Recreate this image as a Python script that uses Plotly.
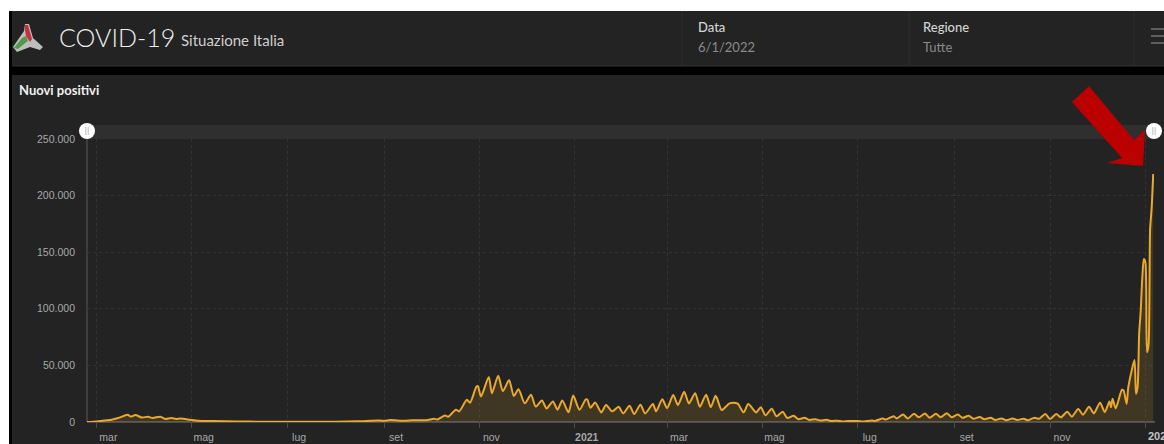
import plotly.graph_objects as go

# ---------- data ----------
dates = [
"2020-02-24","2020-03-01","2020-03-08","2020-03-12","2020-03-15","2020-03-21","2020-03-23","2020-03-26","2020-03-30","2020-04-03",
"2020-04-06","2020-04-11","2020-04-14","2020-04-18","2020-04-21","2020-04-24","2020-04-30","2020-05-05","2020-05-15","2020-05-30",
"2020-06-15","2020-07-01","2020-07-15","2020-08-01","2020-08-15","2020-08-29","2020-09-01","2020-09-05","2020-09-14","2020-09-19",
"2020-09-28","2020-10-03","2020-10-05","2020-10-10","2020-10-12","2020-10-17","2020-10-19","2020-10-24","2020-10-26","2020-10-30",
"2020-10-31","2020-11-02","2020-11-07","2020-11-09","2020-11-13","2020-11-16","2020-11-20","2020-11-23","2020-11-26","2020-11-30",
"2020-12-04","2020-12-07","2020-12-11","2020-12-14","2020-12-18","2020-12-21","2020-12-24","2020-12-28","2020-12-31","2021-01-04",
"2021-01-08","2021-01-09","2021-01-11","2021-01-14","2021-01-18","2021-01-21","2021-01-25","2021-01-29","2021-02-01","2021-02-05",
"2021-02-08","2021-02-12","2021-02-15","2021-02-20","2021-02-22","2021-02-26","2021-03-01","2021-03-05","2021-03-08","2021-03-12",
"2021-03-15","2021-03-19","2021-03-22","2021-03-26","2021-03-29","2021-04-01","2021-04-02","2021-04-05","2021-04-10","2021-04-15",
"2021-04-19","2021-04-22","2021-04-27","2021-04-30","2021-05-03","2021-05-07","2021-05-10","2021-05-14","2021-05-17","2021-05-21",
"2021-05-24","2021-05-28","2021-05-31","2021-06-04","2021-06-07","2021-06-11","2021-06-14","2021-06-18","2021-06-21","2021-06-25",
"2021-07-01","2021-07-05","2021-07-10","2021-07-12","2021-07-17","2021-07-19","2021-07-24","2021-07-26","2021-07-30","2021-08-02",
"2021-08-06","2021-08-09","2021-08-13","2021-08-16","2021-08-20","2021-08-23","2021-08-27","2021-08-30","2021-09-03","2021-09-06",
"2021-09-10","2021-09-13","2021-09-17","2021-09-20","2021-09-24","2021-09-27","2021-10-01","2021-10-04","2021-10-08","2021-10-11",
"2021-10-15","2021-10-18","2021-10-22","2021-10-25","2021-10-29","2021-11-01","2021-11-05","2021-11-08","2021-11-12","2021-11-15",
"2021-11-19","2021-11-22","2021-11-26","2021-11-29","2021-12-03","2021-12-06","2021-12-09","2021-12-10","2021-12-11","2021-12-13",
"2021-12-17","2021-12-18","2021-12-20","2021-12-21","2021-12-23","2021-12-25","2021-12-26","2021-12-27","2021-12-28","2021-12-29",
"2021-12-30","2021-12-31","2022-01-01","2022-01-02","2022-01-03","2022-01-04","2022-01-05","2022-01-06",
]
nuovi_positivi = [
0,500,1500,2500,3500,6500,4800,6200,4000,4600,
3600,4700,2700,3500,2700,3000,2000,1200,800,400,
300,180,200,300,600,1400,1000,1700,1000,1600,
1500,2800,2200,5700,4600,10900,9300,19600,17000,31000,
31700,22500,39800,25300,40900,27300,37000,23000,29000,16500,
24000,13700,19000,12000,18200,10900,19000,8600,23400,10800,
20000,19900,12500,17300,8500,15000,9400,13500,7600,14400,
7000,15300,7600,15900,9400,20000,12300,23800,15000,26700,
16400,25500,13500,24100,13000,23200,21000,10600,16500,16400,
8500,15900,8500,13000,5900,11800,5000,9000,3500,5500,
2500,3800,1800,2500,1270,1900,900,1200,500,900,
800,500,1400,900,3100,2100,5100,3100,6600,3200,
7200,4200,7400,3700,7200,4200,7800,4200,6700,3700,
5600,2800,4500,2500,3800,1800,3200,1600,3000,1800,
2900,1500,3800,2800,7000,2600,7000,4100,9100,4700,
11500,6500,13500,7600,17000,8800,18000,13000,20600,12000,
28500,28000,16000,30000,44000,54800,24900,30800,78000,98000,
126900,144000,141000,61600,68000,170000,189000,219000,
]
y_tickvals = [0, 50000, 100000, 150000, 200000, 250000]
y_ticktext = ["0", "50.000", "100.000", "150.000", "200.000", "250.000"]
x_tickvals = ["2020-03-01","2020-05-01","2020-07-01","2020-09-01","2020-11-01","2021-01-01",
              "2021-03-01","2021-05-01","2021-07-01","2021-09-01","2021-11-01","2022-01-01"]
x_ticktext = ["mar","mag","lug","set","nov","<b>2021</b>","mar","mag","lug","set","nov"," "]
last_year_tick = "2022-01-01"
last_year_label = "<b>2022</b>"

W, H = 1164, 444
FONT = "Lato, 'Open Sans', sans-serif"
AXFONT = "'Liberation Sans', Arial, sans-serif"
PANEL = "#232323"

def fx(p): return p / W
def fy(p): return 1 - p / H

def rect(x0, y0, x1, y1, color):
    return dict(type="rect", xref="paper", yref="paper", x0=fx(x0), x1=fx(x1), y0=fy(y0), y1=fy(y1),
                fillcolor=color, line_width=0, layer="below")

def line(x0, y0, x1, y1, color, width=1, layer="below"):
    return dict(type="line", xref="paper", yref="paper", x0=fx(x0), x1=fx(x1), y0=fy(y0), y1=fy(y1),
                line=dict(color=color, width=width), layer=layer)

def poly(points, color, layer="above"):
    d = "M " + " L ".join(f"{fx(a):.5f},{fy(b):.5f}" for a, b in points) + " Z"
    return dict(type="path", xref="paper", yref="paper", path=d, fillcolor=color, line_width=0, layer=layer)

def circle(cx, cy, r, color):
    return dict(type="circle", xref="paper", yref="paper", x0=fx(cx - r), x1=fx(cx + r),
                y0=fy(cy + r), y1=fy(cy - r), fillcolor=color, line_width=0, layer="above")

shapes = [
    rect(9, 11, W, H, "#000000"),
    rect(12, 11, W, 66, PANEL),
    rect(12, 75, W, H, PANEL),
    line(682, 11, 682, 66, "#2e2e2e"),
    line(909, 11, 909, 66, "#2e2e2e"),
    line(1134, 11, 1134, 66, "#2e2e2e"),
    line(12, 66, W, 66, "#333333"),
    rect(87, 125, 1154, 139, "#2f2f2f"),
    line(87, 139, 87, 422, "#5a5a5a"),
    line(87, 422, 1155, 422, "#7a7a7a"),
    # hamburger
    line(1151, 29, 1164, 29, "#9a9a9a"),
    line(1151, 36, 1164, 36, "#9a9a9a"),
    line(1151, 43, 1164, 43, "#9a9a9a"),
    # slider handles
    circle(87, 131, 8, "#ffffff"),
    line(85.8, 127, 85.8, 135, "#bdbdbd", 1, "above"),
    line(88.2, 127, 88.2, 135, "#bdbdbd", 1, "above"),
    circle(1154, 131, 8, "#ffffff"),
    line(1152.8, 127, 1152.8, 135, "#bdbdbd", 1, "above"),
    line(1155.2, 127, 1155.2, 135, "#bdbdbd", 1, "above"),
    # red arrow
    poly([(1089, 86), (1072, 102), (1122, 158), (1107, 163), (1143, 166), (1145, 130), (1134, 140)], "#bb0000"),
    # logo
    poly([(13, 47), (24, 31), (25, 24), (29, 24), (33, 38), (43, 47), (40, 50), (30, 47), (17, 52)], "#bdbdbd"),
    poly([(14, 48), (22, 38), (26, 36), (28, 41), (24, 44), (18, 49)], "#4f9a4a"),
    poly([(25, 25), (28, 25), (32, 39), (30, 42), (26, 36), (25, 30)], "#c5303a"),
]

def text(x, y, s, size, color, weight=400, xanchor="left"):
    return dict(xref="paper", yref="paper", x=fx(x), y=fy(y), text=s, showarrow=False, xanchor=xanchor,
                yanchor="middle", align="left", xshift=0,
                font=dict(family=FONT, size=size, color=color, weight=weight))

annotations = [
    text(57, 37, "COVID-19", 25, "#eeeeee", 300),
    text(179, 40, "Situazione Italia", 15, "#cfcfcf"),
    text(696, 27, "Data", 13, "#d4d4d4", 500),
    text(696, 47, "6/1/2022", 13, "#8a8a8a"),
    text(921, 27, "Regione", 13, "#d4d4d4", 500),
    text(921, 47, "Tutte", 13, "#8a8a8a"),
    text(17, 90, "Nuovi positivi", 13, "#f0f0f0", 700),
    dict(xref="x", yref="paper", x=last_year_tick, y=fy(436), text=last_year_label, showarrow=False,
         xanchor="left", yanchor="middle", xshift=1,
         font=dict(family=AXFONT, size=11, color="#c4c4c4")),
]

fig = go.Figure(go.Scatter(
    x=dates, y=nuovi_positivi, mode="lines",
    line=dict(color="#eba92b", width=2, shape="spline", smoothing=0.7),
    fill="tozeroy", fillcolor="rgba(235,170,45,0.14)", hoverinfo="skip", showlegend=False,
))
fig.update_layout(
    width=W, height=H, autosize=False,
    margin=dict(l=0, r=0, t=0, b=0, pad=0, autoexpand=False),
    paper_bgcolor="#ffffff", plot_bgcolor="rgba(0,0,0,0)",
    font=dict(family=AXFONT, size=10.5, color="#a8a8a8"),
    shapes=shapes, annotations=annotations,
    xaxis=dict(
        type="date", domain=[fx(87), fx(1154)], range=["2020-02-24", "2022-01-06 12:00"],
        tickmode="array", tickvals=x_tickvals, ticktext=x_ticktext, ticklabelshift=12,
        showgrid=True, gridcolor="#333333", griddash="dot", gridwidth=1,
        ticks="outside", ticklen=5, tickcolor="#4a4a4a", showline=False, zeroline=False,
        tickfont=dict(size=10.5, color="#a8a8a8"), tickangle=0, anchor="y", automargin=False,
    ),
    yaxis=dict(
        domain=[fy(422), fy(139)], range=[0, 250000],
        tickmode="array", tickvals=y_tickvals, ticktext=y_ticktext,
        showgrid=True, gridcolor="#333333", griddash="dot", gridwidth=1,
        ticks="", showline=False, zeroline=False, ticklabelstandoff=11,
        tickfont=dict(size=10.5, color="#a8a8a8"), anchor="x", automargin=False,
    ),
)
fig.write_html("out.html", config={"displayModeBar": False},
               post_script="document.body.style.margin='0';document.documentElement.style.overflow='hidden';")
